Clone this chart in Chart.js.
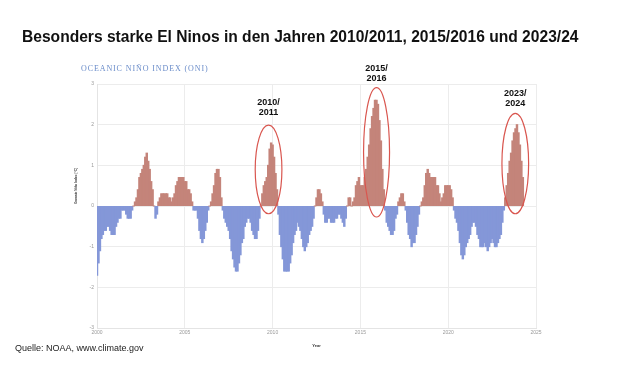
<!DOCTYPE html>
<html>
<head>
<meta charset="utf-8">
<script src="https://cdn.jsdelivr.net/npm/chart.js@4"></script>
<style>
  html, body { margin: 0; padding: 0; background: #fff; }
  #chart { display: block; }
</style>
</head>
<body>
<canvas id="chart" width="620" height="370"></canvas>
<script>
// ONI, 3-month running means, DJF ... NDJ, one row per year
const oni2000to2004 = [
  -1.7, -1.4, -1.1, -0.8, -0.7, -0.6, -0.6, -0.5, -0.5, -0.6, -0.7, -0.7,
  -0.7, -0.5, -0.4, -0.3, -0.3, -0.1, -0.1, -0.1, -0.2, -0.3, -0.3, -0.3,
  -0.1, 0.0, 0.1, 0.2, 0.4, 0.7, 0.8, 0.9, 1.0, 1.2, 1.3, 1.1,
  0.9, 0.6, 0.4, 0.0, -0.3, -0.2, 0.1, 0.2, 0.3, 0.3, 0.3, 0.3,
  0.3, 0.2, 0.2, 0.1, 0.2, 0.3, 0.5, 0.6, 0.7, 0.7, 0.7, 0.7
];
const oni2005to2009 = [
  0.6, 0.6, 0.4, 0.4, 0.3, 0.1, -0.1, -0.1, -0.1, -0.3, -0.6, -0.8,
  -0.9, -0.8, -0.6, -0.4, -0.1, 0.0, 0.1, 0.3, 0.5, 0.8, 0.9, 0.9,
  0.7, 0.2, -0.1, -0.3, -0.4, -0.5, -0.6, -0.8, -1.1, -1.3, -1.5, -1.6,
  -1.6, -1.4, -1.2, -0.9, -0.8, -0.5, -0.4, -0.3, -0.3, -0.4, -0.6, -0.7,
  -0.8, -0.8, -0.6, -0.3, 0.0, 0.3, 0.5, 0.6, 0.7, 1.0, 1.4, 1.55
];
const oni2010to2014 = [
  1.5, 1.2, 0.8, 0.4, -0.2, -0.7, -1.0, -1.3, -1.6, -1.6, -1.6, -1.6,
  -1.4, -1.2, -0.9, -0.7, -0.6, -0.4, -0.5, -0.6, -0.8, -1.0, -1.1, -1.0,
  -0.9, -0.7, -0.6, -0.5, -0.3, 0.0, 0.2, 0.4, 0.4, 0.3, 0.1, -0.2,
  -0.4, -0.4, -0.3, -0.3, -0.4, -0.4, -0.4, -0.3, -0.3, -0.2, -0.2, -0.3,
  -0.4, -0.5, -0.3, 0.0, 0.2, 0.2, 0.0, 0.1, 0.2, 0.5, 0.6, 0.7
];
const oni2015to2019 = [
  0.5, 0.5, 0.5, 0.7, 0.9, 1.2, 1.5, 1.9, 2.2, 2.4, 2.6, 2.6,
  2.5, 2.1, 1.6, 0.9, 0.4, -0.1, -0.4, -0.5, -0.6, -0.7, -0.7, -0.6,
  -0.3, -0.2, 0.1, 0.2, 0.3, 0.3, 0.1, -0.1, -0.4, -0.7, -0.8, -1.0,
  -0.9, -0.9, -0.7, -0.5, -0.2, 0.0, 0.1, 0.2, 0.5, 0.8, 0.9, 0.8,
  0.7, 0.7, 0.7, 0.7, 0.5, 0.5, 0.3, 0.1, 0.2, 0.3, 0.5, 0.5
];
const oni2020to2024 = [
  0.5, 0.5, 0.4, 0.2, -0.1, -0.3, -0.4, -0.6, -0.9, -1.2, -1.3, -1.2,
  -1.0, -0.9, -0.8, -0.7, -0.5, -0.4, -0.4, -0.5, -0.7, -0.8, -1.0, -1.0,
  -1.0, -0.9, -1.0, -1.1, -1.0, -0.9, -0.8, -0.9, -1.0, -1.0, -0.9, -0.8,
  -0.7, -0.4, -0.1, 0.2, 0.5, 0.8, 1.1, 1.3, 1.6, 1.8, 1.9, 2.0,
  1.8, 1.5, 1.1, 0.7
];
const firstYear = 2000;
const xTicks = [2000, 2005, 2010, 2015, 2020, 2025];
const yTicks = [-3, -2, -1, 0, 1, 2, 3];

const highlightLabels = [["2010/", "2011"], ["2015/", "2016"], ["2023/", "2024"]];

// ellipse placement in data units (centre year, half width in years, top/bottom index)
const highlights = [
  { x: 2009.77, half: 0.76, top: 1.99, bottom: -0.19, labelY: 2.54 },
  { x: 2015.92, half: 0.74, top: 2.91, bottom: -0.27, labelY: 3.39 },
  { x: 2023.82, half: 0.76, top: 2.28, bottom: -0.19, labelY: 2.77 }
];

const monthly = [].concat(oni2000to2004, oni2005to2009, oni2010to2014, oni2015to2019, oni2020to2024);
const points = monthly.map((v, i) => ({ x: firstYear + i / 12, y: v }));

const RED = "#c4847a";
const BLUE = "#8497d8";
const SANS = '"Liberation Sans", Arial, sans-serif';

const overlay = {
  id: "overlay",
  afterDatasetsDraw(chart) {
    const { ctx } = chart;
    const x = chart.scales.x;
    const y = chart.scales.y;
    ctx.save();
    highlights.forEach((h, i) => {
      const cx = x.getPixelForValue(h.x);
      const rx = x.getPixelForValue(h.x + h.half) - cx;
      const yt = y.getPixelForValue(h.top);
      const yb = y.getPixelForValue(h.bottom);
      ctx.strokeStyle = "#d9564f";
      ctx.lineWidth = 1.2;
      ctx.beginPath();
      ctx.ellipse(cx, (yt + yb) / 2, rx, (yb - yt) / 2, 0, 0, Math.PI * 2);
      ctx.stroke();

      ctx.fillStyle = "#111";
      ctx.font = "bold 9px " + SANS;
      ctx.textAlign = "center";
      ctx.textBaseline = "middle";
      const ly = y.getPixelForValue(h.labelY);
      highlightLabels[i].forEach((line, j) => ctx.fillText(line, cx, ly + j * 10));
    });
    ctx.restore();
  },
  afterDraw(chart) {
    const { ctx, chartArea } = chart;
    ctx.save();
    ctx.textAlign = "left";
    ctx.textBaseline = "alphabetic";
    ctx.fillStyle = "#111";
    ctx.font = "bold 15.6px " + SANS;
    ctx.fillText("Besonders starke El Ninos in den Jahren 2010/2011, 2015/2016 und 2023/24", 22, 42);

    ctx.fillStyle = "#6a8cc9";
    ctx.font = '8px "Liberation Serif", "Times New Roman", serif';
    ctx.letterSpacing = "0.9px";
    ctx.fillText("OCEANIC NIÑO INDEX (ONI)", 81, 71);
    ctx.letterSpacing = "0px";

    ctx.fillStyle = "#222";
    ctx.font = "9px " + SANS;
    ctx.fillText("Quelle: NOAA, www.climate.gov", 15, 351);

    // y axis title, sits a bit above the middle of the plot like the original
    ctx.translate(chartArea.left - 21, 186);
    ctx.rotate(-Math.PI / 2);
    ctx.textAlign = "center";
    ctx.textBaseline = "middle";
    ctx.fillStyle = "#333";
    ctx.font = "bold 3.2px " + SANS;
    ctx.fillText("Oceanic Niño Index [°C]", 0, 0);
    ctx.restore();
  }
};

new Chart(document.getElementById("chart").getContext("2d"), {
  type: "bar",
  data: {
    datasets: [{
      data: points,
      backgroundColor: c => (c.raw && c.raw.y < 0 ? BLUE : RED),
      borderWidth: 0,
      barPercentage: 1,
      categoryPercentage: 1,
      inflateAmount: 0.5
    }]
  },
  options: {
    responsive: false,
    animation: false,
    layout: { padding: { left: 60, right: 84, top: 84, bottom: 10 } },
    plugins: { legend: { display: false }, tooltip: { enabled: false } },
    scales: {
      x: {
        type: "linear",
        min: 2000,
        max: 2025,
        offset: false,
        afterBuildTicks: s => { s.ticks = xTicks.map(v => ({ value: v })); },
        afterFit: s => { s.height = 32; },
        ticks: { color: "#999", font: { size: 5, family: SANS }, padding: 2, callback: v => String(v) },
        grid: { color: "#ececec", offset: false, drawTicks: false },
        border: { color: "#e4e4e4" },
        title: { display: true, text: "Year", color: "#333", font: { size: 4, weight: "bold", family: SANS }, padding: { top: 0, bottom: 12 } }
      },
      y: {
        min: -3,
        max: 3,
        afterBuildTicks: s => { s.ticks = yTicks.map(v => ({ value: v })); },
        afterFit: s => { s.width = 37; },
        ticks: { color: "#999", font: { size: 5, family: SANS }, padding: 3 },
        grid: { color: "#ececec", drawTicks: false },
        border: { color: "#e4e4e4" }
      }
    }
  },
  plugins: [overlay]
});
</script>
</body>
</html>
